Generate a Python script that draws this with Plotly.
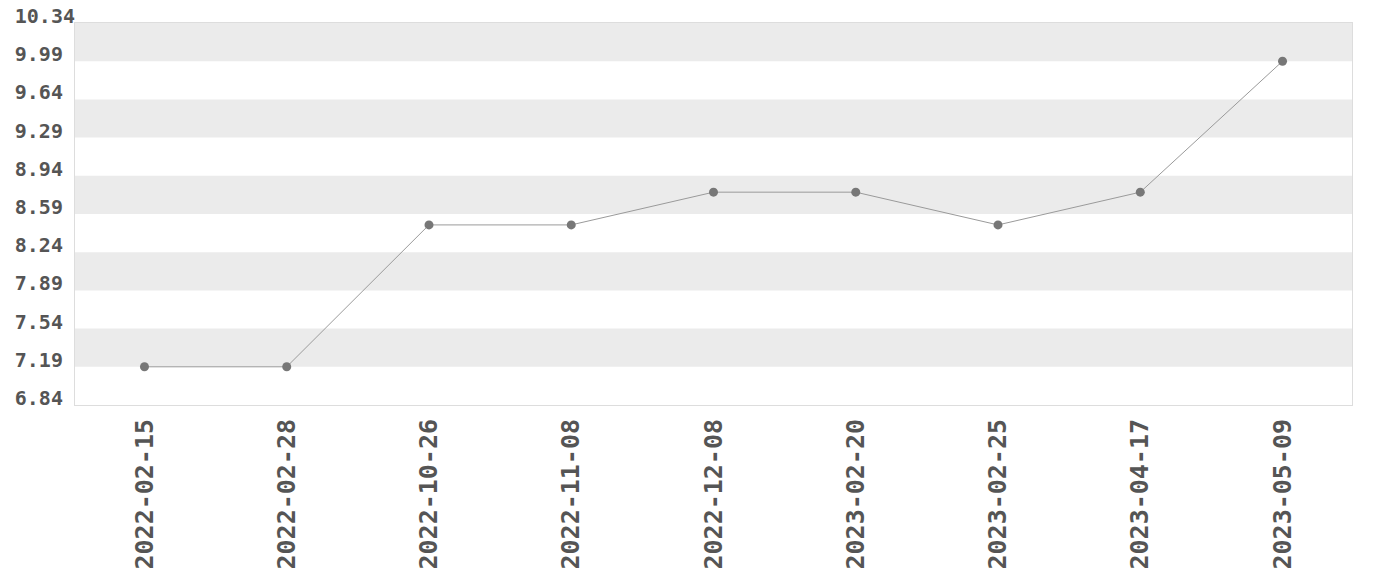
import plotly.graph_objects as go

dates = ["2022-02-15", "2022-02-28", "2022-10-26", "2022-11-08", "2022-12-08",
         "2023-02-20", "2023-02-25", "2023-04-17", "2023-05-09"]
values = [7.19, 7.19, 8.49, 8.49, 8.79, 8.79, 8.49, 8.79, 9.99]
y_ticks = [6.84, 7.19, 7.54, 7.89, 8.24, 8.59, 8.94, 9.29, 9.64, 9.99, 10.34]

FONT = "DejaVu Sans Mono"
width_chars = max(len(f"{t:.2f}") for t in y_ticks)
y_text = ["<b>" + f"{t:.2f}" + "\u00a0" * (width_chars - len(f"{t:.2f}")) + "</b>" for t in y_ticks]

fig = go.Figure()
fig.add_trace(go.Scatter(
    x=dates, y=values, mode="lines+markers",
    line=dict(color="#9a9a9a", width=1),
    marker=dict(color="#777777", size=9),
    hoverinfo="x+y",
))

# alternating bands derived from tick values
shapes = []
for i in range(len(y_ticks) - 1, 0, -2):
    shapes.append(dict(type="rect", xref="paper", yref="y", x0=0, x1=1,
                       y0=y_ticks[i - 1], y1=y_ticks[i], fillcolor="#ebebeb",
                       line=dict(width=0), layer="below"))

# page body adds an 8px offset; margins compensate
fig.update_layout(
    width=1380, height=580,
    margin=dict(l=67, r=36, t=15, b=183),
    plot_bgcolor="white", paper_bgcolor="white",
    shapes=shapes, showlegend=False,
    font=dict(family=FONT, color="#555555"),
    xaxis=dict(
        type="category", tickangle=-90, showgrid=False, zeroline=False,
        automargin=False, ticklabeloverflow="allow",
        tickfont=dict(family=FONT, size=25, color="#555555"),
        tickvals=dates, ticktext=[f"<b>{d}</b>" for d in dates],
        showline=True, mirror=True, linecolor="#dddddd", linewidth=1,
        ticks="outside", ticklen=3, tickcolor="rgba(0,0,0,0)",
    ),
    yaxis=dict(
        range=[y_ticks[0], y_ticks[-1]], tickvals=y_ticks, ticktext=y_text,
        showgrid=False, zeroline=False, automargin=False,
        ticklabeloverflow="allow",
        tickfont=dict(family=FONT, size=20, color="#555555"),
        showline=True, mirror=True, linecolor="#dddddd", linewidth=1,
        ticklabelshift=-7, ticklabelstandoff=-5,
    ),
)

fig.write_html("out.html")
